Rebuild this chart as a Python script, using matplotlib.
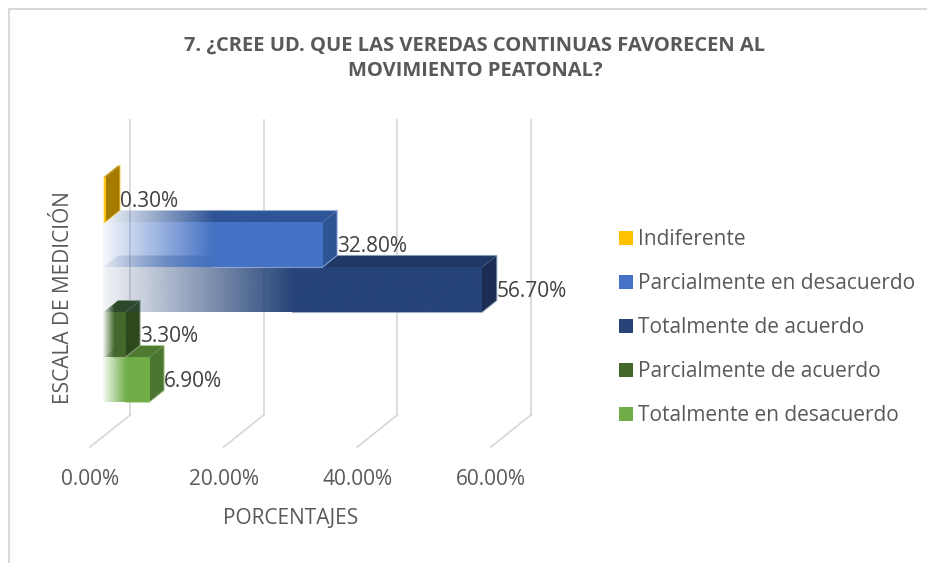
import numpy as np
import matplotlib
matplotlib.use("Agg")
import matplotlib.pyplot as plt
from matplotlib.patches import Polygon, Patch
from matplotlib.lines import Line2D
from matplotlib.colors import to_rgb

plt.rcParams['font.family'] = ['Open Sans', 'DejaVu Sans']

# survey answers, listed top to bottom as they appear in the chart
categories = ["Indiferente", "Parcialmente en desacuerdo", "Totalmente de acuerdo",
              "Parcialmente de acuerdo", "Totalmente en desacuerdo"]
values = [0.3, 32.8, 56.7, 3.3, 6.9]
value_labels = ["0.30%", "32.80%", "56.70%", "3.30%", "6.90%"]
x_ticks = [0, 20, 40, 60]
x_tick_labels = ["0.00%", "20.00%", "40.00%", "60.00%"]

front_colors = ["#FFC000", "#4472C4", "#264478", "#43682B", "#70AD47"]
top_colors = ["#BF9000", "#2F5597", "#1F3864", "#2E4A1E", "#4E7A31"]
side_colors = ["#A67C00", "#2F5496", "#1B2D52", "#2D481D", "#4B7530"]

TEXT = "#595959"
GRID = "#D9D9D9"

# fake 3-D geometry (data units: % on x, bar rows on y)
DX, DY = 2.25, 0.267          # bar depth
WALL_DX, WALL_Y0, WALL_Y1 = 4.04, 1.22, 7.78
FLOOR_DX, FLOOR_Y = -1.95, 0.51
FADE = 0.5                     # share of bar length used by the fade-in


def fade_image(color, t_max, n=300, a0=0.06):
    t = np.linspace(0, t_max, n)
    alpha = a0 + (1 - a0) * np.clip(t / FADE, 0, 1)
    img = np.zeros((1, n, 4))
    img[..., :3] = to_rgb(color)
    img[..., 3] = alpha
    return img


def tint(color, f=0.45):
    r, g, b = to_rgb(color)
    return (r + (1 - r) * f, g + (1 - g) * f, b + (1 - b) * f)


W, H = 928, 563
fig = plt.figure(figsize=(W / 100, H / 100), dpi=100)
ax = fig.add_axes([60 / W, 1 - 470 / H, 540 / W, 370 / H])
ax.set_axis_off()

# back wall gridlines and their floor runs
for t in x_ticks:
    ax.plot([t + WALL_DX, t + WALL_DX], [WALL_Y0, WALL_Y1], color=GRID, lw=1.3, zorder=1)
    ax.plot([t + WALL_DX, t + FLOOR_DX], [WALL_Y0, FLOOR_Y], color=GRID, lw=1.3, zorder=1)

n = len(categories)
# draw from the bottom row upwards so upper fronts sit over lower tops
for k in range(n):
    i = n - 1 - k
    v = values[i]
    y0 = 1.5 + k
    y1 = y0 + 1
    z = 2 + 3 * k

    top = Polygon([(0, y1), (v, y1), (v + DX, y1 + DY), (DX, y1 + DY)],
                  closed=True, fc="none", ec="none")
    ax.add_patch(top)
    im = ax.imshow(fade_image(top_colors[i], (v + DX) / v), extent=(0, v + DX, y1, y1 + DY),
                   aspect="auto", interpolation="bilinear", zorder=z)
    im.set_clip_path(top)

    ax.add_patch(Polygon([(v, y0), (v + DX, y0 + DY), (v + DX, y1 + DY), (v, y1)],
                         closed=True, fc=side_colors[i], ec="none", zorder=z + 1))

    ax.imshow(fade_image(front_colors[i], 1.0), extent=(0, v, y0, y1),
              aspect="auto", interpolation="bilinear", zorder=z + 2)

    # faint light rim along the solid part of the silhouette
    ax.plot([v * FADE, v, v + DX, v + DX, v * FADE + DX],
            [y0, y0, y0 + DY, y1 + DY, y1 + DY],
            color=tint(front_colors[i]), lw=0.8, alpha=0.8, zorder=z + 2.5)

    ax.text(v + DX, (y0 + y1) / 2 - 0.04, value_labels[i], ha="left", va="center",
            fontsize=15, color="#404040", zorder=20)

for t, lbl in zip(x_ticks, x_tick_labels):
    ax.text(t + FLOOR_DX, -0.22, lbl, ha="center", va="center", fontsize=15,
            color=TEXT, clip_on=False)

ax.set_xlim(-6.44, 74.4)
ax.set_ylim(0, 370 / 45)

fig.text(291 / W, 1 - 518 / H, "PORCENTAJES", ha="center", va="center",
         fontsize=15, color=TEXT)
fig.text(64 / W, 1 - 298 / H, "ESCALA DE MEDICIÓN", ha="center", va="center",
         rotation=90, fontsize=15, color=TEXT)
fig.text(475 / W, 1 - 58 / H,
         "7. ¿CREE UD. QUE LAS VEREDAS CONTINUAS FAVORECEN AL\nMOVIMIENTO PEATONAL?",
         ha="center", va="center", fontsize=14.5, fontweight="bold", color=TEXT,
         linespacing=1.34)

handles = [Patch(facecolor=c, edgecolor="none") for c in front_colors]
fig.legend(handles, categories, loc="upper left", bbox_to_anchor=(609 / W, 1 - 219 / H),
           frameon=False, fontsize=15, labelcolor=TEXT, handlelength=0.65,
           handleheight=0.65, handletextpad=0.25, labelspacing=1.1, borderpad=0)

# chart area outline (top and left edges)
fig.add_artist(Line2D([9 / W, 1], [1 - 9 / H, 1 - 9 / H], transform=fig.transFigure,
                      color=GRID, lw=1.5))
fig.add_artist(Line2D([9 / W, 9 / W], [0, 1 - 9 / H], transform=fig.transFigure,
                      color=GRID, lw=1.5))

fig.savefig("out.png", dpi=100, facecolor="white")
